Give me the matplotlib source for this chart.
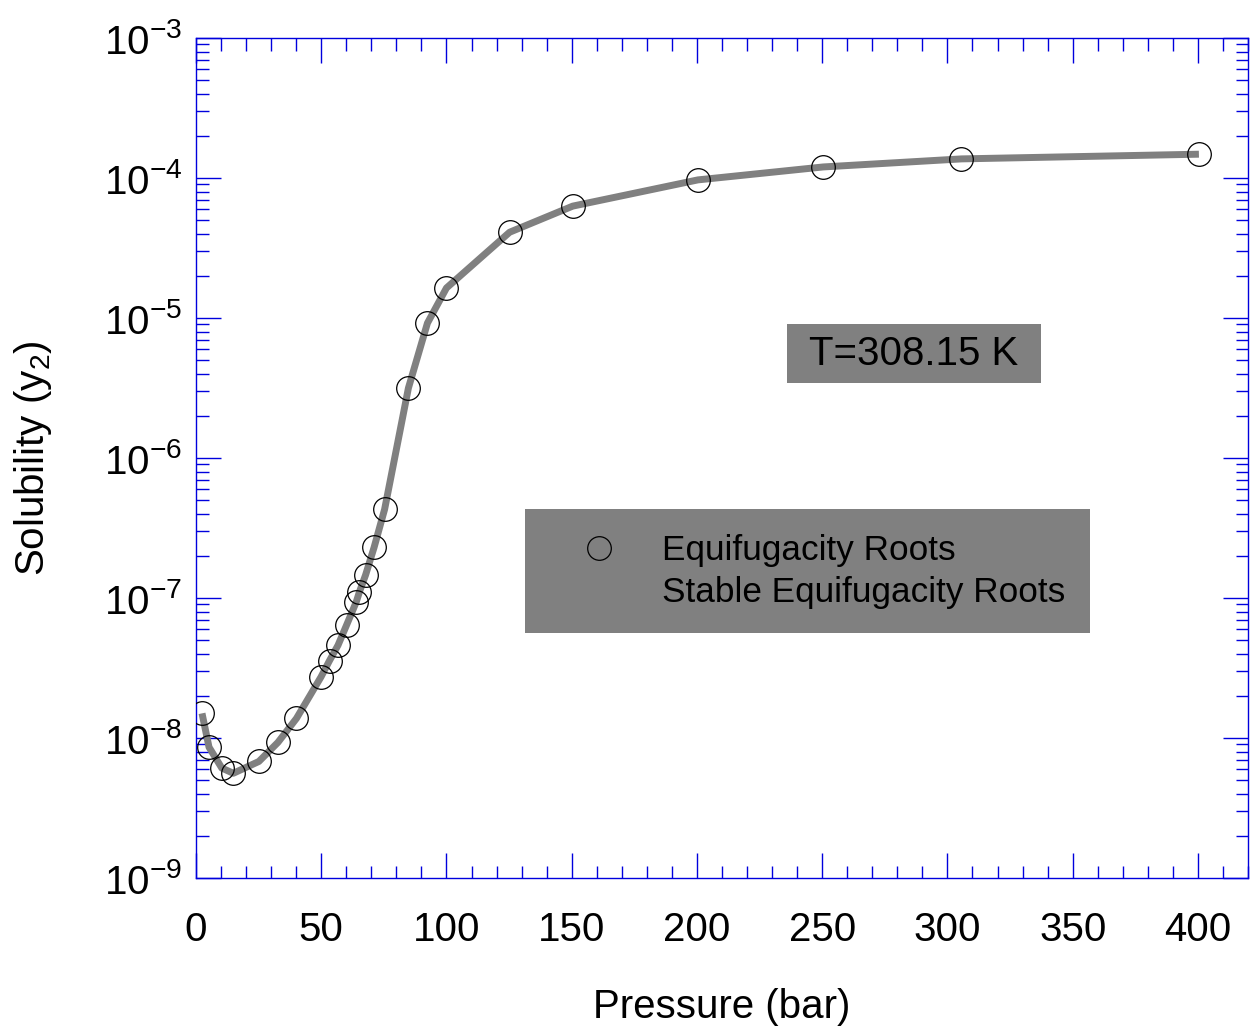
import numpy as np
import matplotlib
matplotlib.use("Agg")
import matplotlib.pyplot as plt
from matplotlib.patches import Rectangle
from matplotlib.ticker import LogLocator, MultipleLocator, LogFormatterMathtext, NullFormatter

plt.rcParams['font.family'] = ['Liberation Sans', 'DejaVu Sans']
plt.rcParams['mathtext.default'] = 'regular'

# solubility of the solute in supercritical CO2 at 308.15 K
pressure = [2.4, 5.2, 10.3, 14.9, 25.1, 32.7, 40.1, 49.9, 53.3, 56.7, 60.1,
            64.0, 65.2, 67.7, 71.1, 75.3, 84.8, 92.4, 100.0, 125.2, 150.4,
            200.4, 250.4, 305.6, 400.4]
solubility = [1.50e-8, 8.6e-9, 6.1e-9, 5.6e-9, 6.8e-9, 9.3e-9, 1.38e-8,
              2.73e-8, 3.57e-8, 4.6e-8, 6.4e-8, 9.4e-8, 1.1e-7, 1.46e-7,
              2.3e-7, 4.3e-7, 3.16e-6, 9.2e-6, 1.64e-5, 4.1e-5, 6.3e-5,
              9.7e-5, 1.2e-4, 1.37e-4, 1.48e-4]

axis_blue = '#0000dd'

fig = plt.figure(figsize=(12.5, 10.28), dpi=100)
ax = fig.add_axes([0.1568, 0.1459, 0.8416, 0.8171])

ax.plot(pressure, solubility, color='#808080', lw=5, solid_capstyle='butt', zorder=2)
ax.plot(pressure, solubility, 'o', ms=17, mfc='none', mec='black', mew=0.9,
        label='Equifugacity Roots', zorder=3)
# stable-root curve entry (grey on grey, so only its text shows)
ax.plot([], [], color='#808080', lw=5, label='Stable Equifugacity Roots')

ax.set_yscale('log')
ax.set_xlim(0, 420)
ax.set_ylim(1e-9, 1e-3)

ax.xaxis.set_major_locator(MultipleLocator(50))
ax.xaxis.set_minor_locator(MultipleLocator(10))
ax.yaxis.set_major_locator(LogLocator(base=10, numticks=10))
ax.yaxis.set_minor_locator(LogLocator(base=10, subs=np.arange(2, 10), numticks=20))
ax.yaxis.set_major_formatter(LogFormatterMathtext())
ax.yaxis.set_minor_formatter(NullFormatter())

ax.tick_params(which='both', direction='in', top=True, right=True,
               color=axis_blue, width=1, labelsize=29)
ax.tick_params(which='major', length=18)
ax.tick_params(which='minor', length=9)
ax.tick_params(axis='x', pad=24)
ax.tick_params(axis='y', pad=10)
for sp in ax.spines.values():
    sp.set_color(axis_blue)
    sp.set_linewidth(1)

ax.set_xlabel('Pressure (bar)', fontsize=29, labelpad=28)
ax.set_ylabel('Solubility (y$_2$)', fontsize=29, labelpad=36)

# temperature tag
ax.add_patch(Rectangle((0.5618, 0.5893), 0.2414, 0.0702, transform=ax.transAxes,
                       fc='#808080', ec='none', zorder=4))
ax.text(0.6825, 0.6244, 'T=308.15 K', fontsize=29, ha='center', va='center',
        transform=ax.transAxes, zorder=5)

leg = ax.legend(loc='upper left', bbox_to_anchor=(0.3126, 0.439),
                fontsize=25.3, frameon=True, fancybox=False, framealpha=1,
                facecolor='#808080', edgecolor='none', handlelength=2.8,
                handletextpad=0.4, borderpad=0.7, labelspacing=0.25,
                borderaxespad=0)
leg.get_frame().set_linewidth(0)

fig.savefig('out.png', dpi=100)
